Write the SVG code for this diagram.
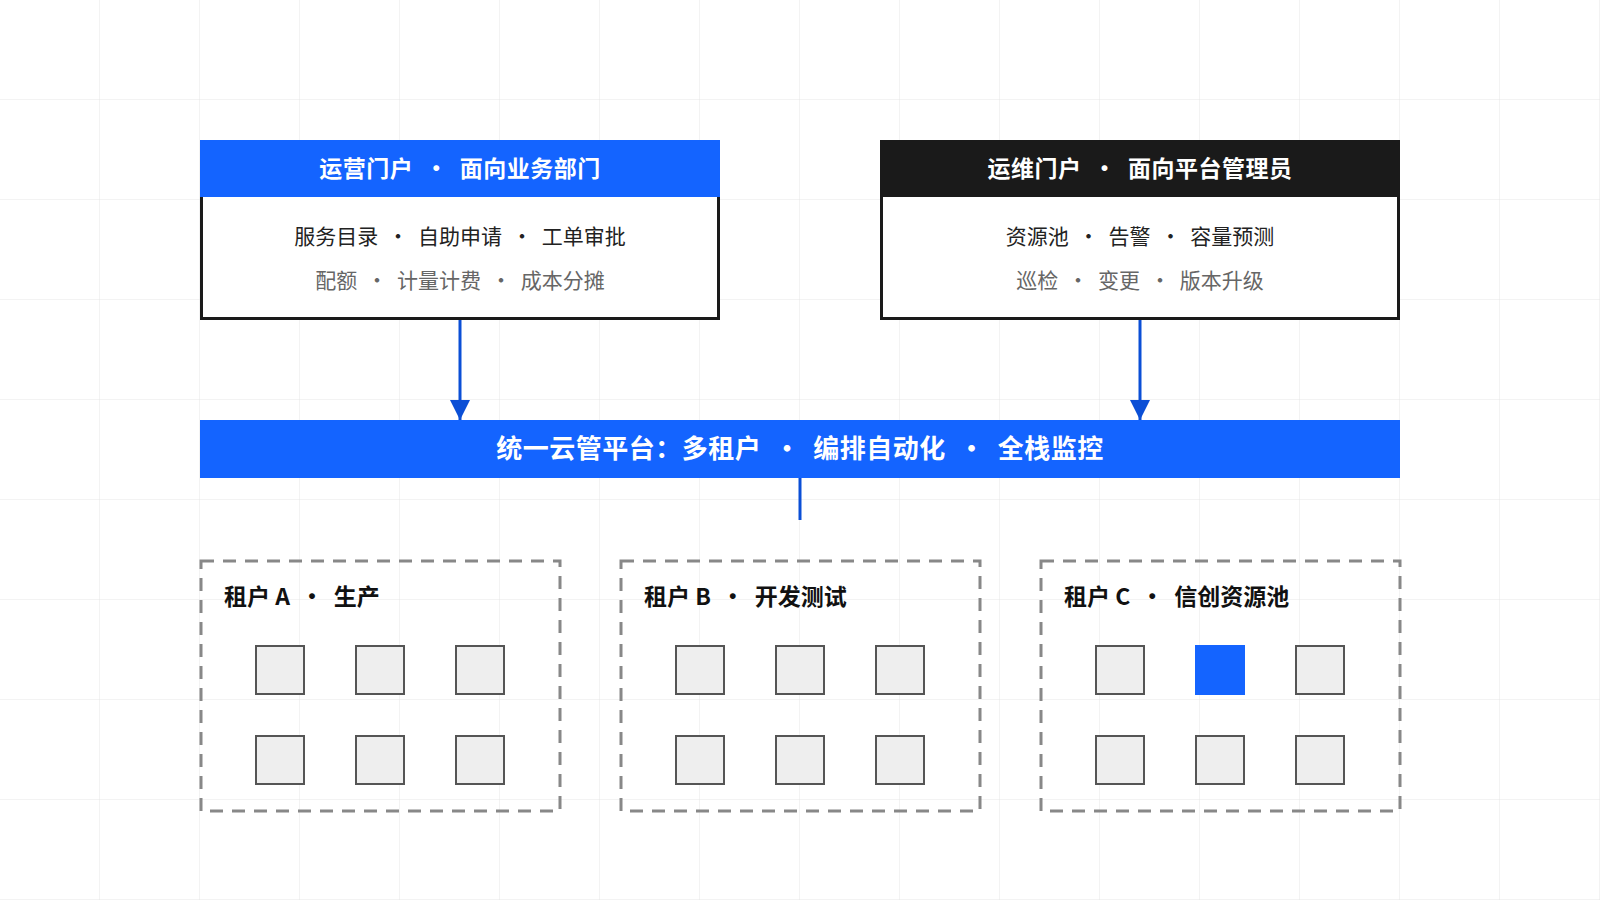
<svg xmlns="http://www.w3.org/2000/svg" width="1600" height="900" viewBox="0 0 1600 900">
<defs>
<pattern id="grid" width="100" height="100" patternUnits="userSpaceOnUse"><path d="M100 0V100M0 100H100" fill="none" stroke="#e6e6e6" stroke-width="1"/></pattern>
<marker id="arr" viewBox="0 0 10 10" refX="10" refY="5" markerWidth="20" markerHeight="20" markerUnits="userSpaceOnUse" orient="auto"><path d="M0 0L10 5L0 10z" fill="#0b4fd6"/></marker>
<style>
text{font-family:"Noto Sans CJK SC","Liberation Sans",sans-serif}
.hd{font-size:23px;font-weight:bold;fill:#fff;text-anchor:middle;letter-spacing:0.5px}
.pf{font-size:26px}
.l1{font-size:21px;fill:#222;text-anchor:middle}
.l2{font-size:21px;fill:#666;text-anchor:middle}
.tt{font-size:23px;font-weight:bold;fill:#111}
.dash{fill:none;stroke:#888;stroke-width:3;stroke-dasharray:13 9}
.sq{fill:#eee;stroke:#555;stroke-width:2}
.conn{stroke:#0b4fd6;stroke-width:3;fill:none}
</style>
</defs>
<rect width="1600" height="900" fill="#fff"/>
<rect width="1600" height="900" fill="url(#grid)"/>
<g id="ops">
<rect x="201.5" y="141.5" width="517" height="177" fill="#fff" stroke="#1a1a1a" stroke-width="3"/>
<rect x="200" y="140" width="520" height="57" fill="#1464ff"/>
<text class="hd" x="460" y="177">运营门户 &#160;· &#160;面向业务部门</text>
<text class="l1" x="460" y="244">服务目录 &#160;· &#160;自助申请 &#160;· &#160;工单审批</text>
<text class="l2" x="460" y="288">配额 &#160;· &#160;计量计费 &#160;· &#160;成本分摊</text>
</g>
<g id="om">
<rect x="881.5" y="141.5" width="517" height="177" fill="#fff" stroke="#1a1a1a" stroke-width="3"/>
<rect x="880" y="140" width="520" height="57" fill="#1a1a1a"/>
<text class="hd" x="1140" y="177">运维门户 &#160;· &#160;面向平台管理员</text>
<text class="l1" x="1140" y="244">资源池 &#160;· &#160;告警 &#160;· &#160;容量预测</text>
<text class="l2" x="1140" y="288">巡检 &#160;· &#160;变更 &#160;· &#160;版本升级</text>
</g>
<g id="platform">
<rect x="200" y="420" width="1200" height="58" fill="#1464ff"/>
<text class="hd pf" x="800" y="458">统一云管平台：多租户 &#160;· &#160;编排自动化 &#160;· &#160;全栈监控</text>
</g>
<g id="connectors">
<line class="conn" x1="460" y1="320" x2="460" y2="420" marker-end="url(#arr)"/>
<line class="conn" x1="1140" y1="320" x2="1140" y2="420" marker-end="url(#arr)"/>
<line class="conn" x1="800" y1="478" x2="800" y2="520"/>
</g>
<g id="tenantA">
<rect class="dash" x="201" y="561" width="359" height="250"/>
<text class="tt" x="224" y="605">租户 A &#160;· &#160;生产</text>
<rect class="sq" x="256" y="646" width="48" height="48"/><rect class="sq" x="356" y="646" width="48" height="48"/><rect class="sq" x="456" y="646" width="48" height="48"/>
<rect class="sq" x="256" y="736" width="48" height="48"/><rect class="sq" x="356" y="736" width="48" height="48"/><rect class="sq" x="456" y="736" width="48" height="48"/>
</g>
<g id="tenantB">
<rect class="dash" x="621" y="561" width="359" height="250"/>
<text class="tt" x="644" y="605">租户 B &#160;· &#160;开发测试</text>
<rect class="sq" x="676" y="646" width="48" height="48"/><rect class="sq" x="776" y="646" width="48" height="48"/><rect class="sq" x="876" y="646" width="48" height="48"/>
<rect class="sq" x="676" y="736" width="48" height="48"/><rect class="sq" x="776" y="736" width="48" height="48"/><rect class="sq" x="876" y="736" width="48" height="48"/>
</g>
<g id="tenantC">
<rect class="dash" x="1041" y="561" width="359" height="250"/>
<text class="tt" x="1064" y="605">租户 C &#160;· &#160;信创资源池</text>
<rect class="sq" x="1096" y="646" width="48" height="48"/><rect x="1195" y="645" width="50" height="50" fill="#1464ff"/><rect class="sq" x="1296" y="646" width="48" height="48"/>
<rect class="sq" x="1096" y="736" width="48" height="48"/><rect class="sq" x="1196" y="736" width="48" height="48"/><rect class="sq" x="1296" y="736" width="48" height="48"/>
</g>
</svg>
